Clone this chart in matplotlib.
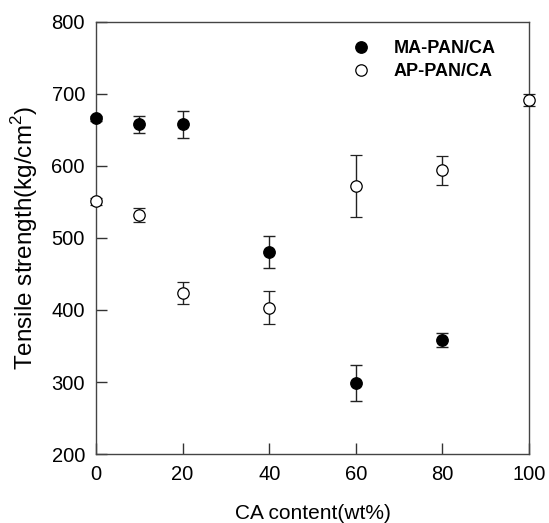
import matplotlib
matplotlib.use("Agg")
import matplotlib.pyplot as plt

plt.rcParams['font.family'] = ['Liberation Sans', 'DejaVu Sans']
plt.rcParams['mathtext.fontset'] = 'custom'
plt.rcParams['mathtext.rm'] = 'Liberation Sans'

ma_x = [0, 10, 20, 40, 60, 80]
ma_y = [666, 658, 658, 481, 299, 358]
ma_err = [4, 12, 19, 22, 25, 10]

ap_x = [0, 10, 20, 40, 60, 80, 100]
ap_y = [551, 532, 424, 403, 572, 594, 692]
ap_err = [5, 10, 15, 23, 43, 20, 8]

xticks = [0, 20, 40, 60, 80, 100]
yticks = [200, 300, 400, 500, 600, 700, 800]

fig = plt.figure(figsize=(5.49, 5.23), dpi=100)
ax = fig.add_axes([96/549, 1-454/523, (529-96)/549, (454-22)/523])

ekw = dict(ecolor='#222222', elinewidth=1.0, capsize=4.5, capthick=1.0, clip_on=False)
eb1 = ax.errorbar(ma_x, ma_y, yerr=ma_err, fmt='o', ms=8.2, mfc='black', mec='black',
                  label='MA-PAN/CA', zorder=3, **ekw)
eb2 = ax.errorbar(ap_x, ap_y, yerr=ap_err, fmt='o', ms=8.2, mfc='white', mec='black', mew=0.9,
                  label='AP-PAN/CA', zorder=3, **ekw)

ax.set_xlim(0, 100)
ax.set_ylim(200, 800)
ax.set_xticks(xticks)
ax.set_yticks(yticks)
ax.tick_params(direction='in', length=8, width=1, labelsize=14.5, pad=8, color='#333333')
for s in ax.spines.values():
    s.set_linewidth(1.0)
    s.set_color('#444444')

ax.set_xlabel('CA content(wt%)', fontsize=15, labelpad=14)
ax.set_ylabel('Tensile strength(kg/cm$^2$)', fontsize=17.5, labelpad=8)

leg = ax.legend([eb1[0], eb2[0]], ['MA-PAN/CA', 'AP-PAN/CA'],
                loc='upper left', bbox_to_anchor=(0.55, 0.995), frameon=False,
                handletextpad=1.2, handlelength=1.2, labelspacing=0.3,
                prop={'weight': 'bold', 'size': 13})

fig.savefig('out.png', dpi=100)
